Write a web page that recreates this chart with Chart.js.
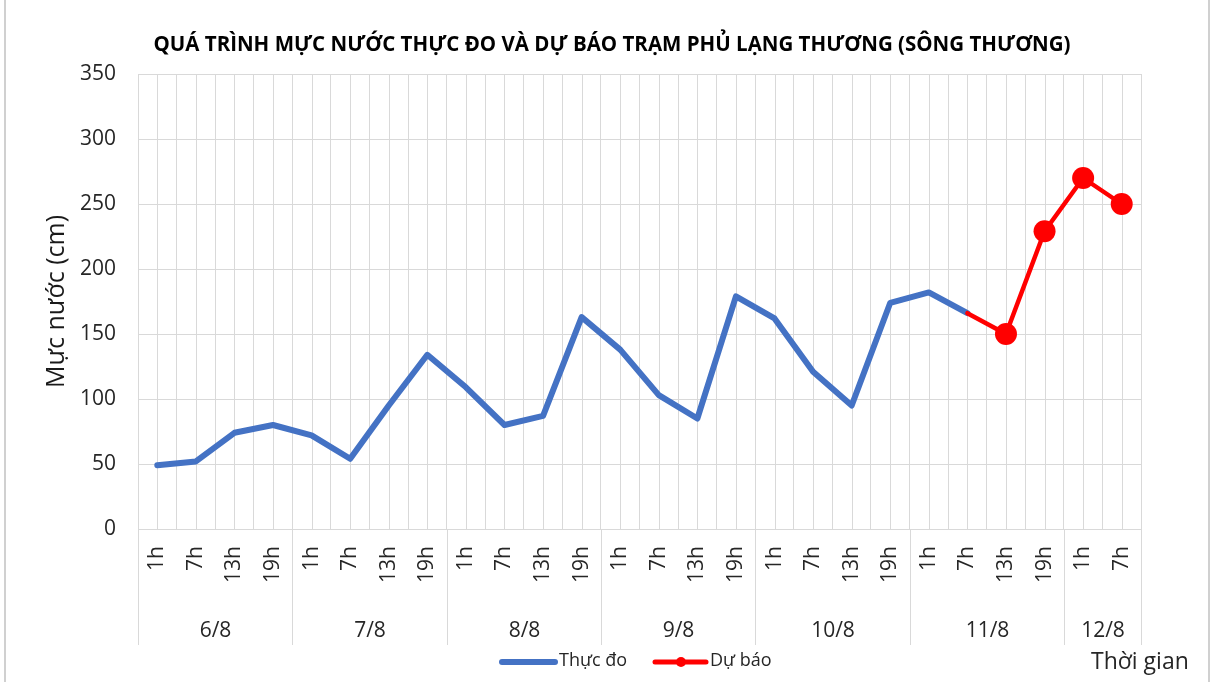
<!DOCTYPE html>
<html>
<head>
<meta charset="utf-8">
<title>Mực nước Phủ Lạng Thương</title>
<script src="https://cdn.jsdelivr.net/npm/chart.js@4.4.1/dist/chart.umd.min.js"></script>
<style>
  html, body { margin: 0; padding: 0; background: #fff; }
  #wrap { width: 1211px; height: 682px; position: relative; }
</style>
</head>
<body>
<div id="wrap"><canvas id="chart"></canvas></div>
<script>
// categories: hour of each reading, grouped by day
const hours = ["1h", "7h", "13h", "19h", "1h", "7h", "13h", "19h", "1h", "7h", "13h", "19h",
  "1h", "7h", "13h", "19h", "1h", "7h", "13h", "19h", "1h", "7h", "13h", "19h", "1h", "7h"];
const days = ["6/8", "7/8", "8/8", "9/8", "10/8", "11/8", "12/8"];
const daySizes = [4, 4, 4, 4, 4, 4, 2];

// water level (cm)
const measured = [49, 52, 74, 80, 72, 54, 95, 134, 109, 80, 87, 163, 138, 103, 85, 179,
  162, 121, 95, 174, 182, 166, null, null, null, null];
const forecast = [null, null, null, null, null, null, null, null, null, null, null, null, null,
  null, null, null, null, null, null, null, null, 166, 150, 229, 270, 250];

const yTicks = [0, 50, 100, 150, 200, 250, 300, 350];

const TITLE = "QUÁ TRÌNH MỰC NƯỚC THỰC ĐO VÀ DỰ BÁO TRẠM PHỦ LẠNG THƯƠNG (SÔNG THƯƠNG)";
const FONT = "'Open Sans', 'DejaVu Sans', sans-serif";
const GRID = "#d9d9d9";
const BLUE = "#4472c4";
const RED = "#ff0000";

const extras = {
  id: "extras",
  beforeDatasetsDraw(chart) {
    // Excel-style gridline through each category centre
    const { ctx, chartArea, scales } = chart;
    ctx.save();
    ctx.strokeStyle = GRID;
    ctx.lineWidth = 1;
    hours.forEach((h, i) => {
      const x = Math.round(scales.x.getPixelForValue(i)) + 0.5;
      ctx.beginPath();
      ctx.moveTo(x, chartArea.top);
      ctx.lineTo(x, chartArea.bottom);
      ctx.stroke();
    });
    ctx.restore();
  },
  afterDraw(chart) {
    const { ctx, chartArea, scales } = chart;
    const x = scales.x;
    const half = (x.getPixelForValue(1) - x.getPixelForValue(0)) / 2;
    ctx.save();

    // title, centred like the original rather than on the canvas
    ctx.fillStyle = "#000";
    ctx.font = "bold 20.5px " + FONT;
    ctx.textAlign = "center";
    ctx.textBaseline = "middle";
    ctx.fillText(TITLE, 612, 45);

    // day groups under the hour labels
    ctx.strokeStyle = GRID;
    ctx.lineWidth = 1;
    ctx.fillStyle = "#262626";
    ctx.font = "21px " + FONT;
    let start = 0;
    const edge = (i) => Math.round(x.getPixelForValue(i) - half) + 0.5;
    days.forEach((d, k) => {
      const end = start + daySizes[k];
      const x0 = edge(start);
      const x1 = edge(end);
      ctx.beginPath();
      ctx.moveTo(x0, chartArea.bottom);
      ctx.lineTo(x0, 645);
      ctx.stroke();
      if (k === days.length - 1) {
        ctx.beginPath();
        ctx.moveTo(x1, chartArea.bottom);
        ctx.lineTo(x1, 645);
        ctx.stroke();
      }
      ctx.fillText(d, (x0 + x1) / 2, 631);
      start = end;
    });

    // legend
    ctx.lineCap = "round";
    ctx.lineWidth = 6;
    ctx.strokeStyle = BLUE;
    ctx.beginPath();
    ctx.moveTo(502, 662);
    ctx.lineTo(555, 662);
    ctx.stroke();
    ctx.strokeStyle = RED;
    ctx.lineWidth = 5;
    ctx.beginPath();
    ctx.moveTo(655, 662);
    ctx.lineTo(706, 662);
    ctx.stroke();
    ctx.fillStyle = RED;
    ctx.beginPath();
    ctx.arc(681, 662, 5, 0, Math.PI * 2);
    ctx.fill();
    ctx.fillStyle = "#262626";
    ctx.font = "18px " + FONT;
    ctx.textAlign = "left";
    ctx.fillText("Thực đo", 559, 661);
    ctx.fillText("Dự báo", 710, 661);

    // x axis caption
    ctx.font = "23px " + FONT;
    ctx.fillText("Thời gian", 1091, 662);

    // frame
    ctx.strokeStyle = "#d0d0d0";
    ctx.lineWidth = 2;
    ctx.beginPath();
    ctx.moveTo(5, 0);
    ctx.lineTo(5, 682);
    ctx.moveTo(1209, 0);
    ctx.lineTo(1209, 682);
    ctx.stroke();
    ctx.restore();
  }
};

new Chart(document.getElementById("chart"), {
  type: "line",
  data: {
    labels: hours,
    datasets: [
      {
        label: "Dự báo",
        data: forecast,
        borderColor: RED,
        backgroundColor: RED,
        borderWidth: 4.5,
        pointRadius: forecast.map((v, i) => (i === 21 ? 0 : 11)),
        pointHoverRadius: 11,
        pointBorderWidth: 0,
        borderJoinStyle: "round",
        borderCapStyle: "round",
        tension: 0,
        order: 0
      },
      {
        label: "Thực đo",
        data: measured,
        borderColor: BLUE,
        backgroundColor: BLUE,
        borderWidth: 6,
        pointRadius: 0,
        borderJoinStyle: "round",
        borderCapStyle: "round",
        tension: 0,
        order: 1
      }
    ]
  },
  options: {
    responsive: true,
    maintainAspectRatio: false,
    animation: false,
    layout: { padding: { top: 74, left: 0, right: 70, bottom: 37 } },
    plugins: {
      legend: { display: false },
      tooltip: { enabled: false },
      title: { display: false }
    },
    scales: {
      x: {
        offset: true,
        grid: { offset: true, color: GRID, drawTicks: false },
        border: { color: GRID },
        ticks: {
          autoSkip: false,
          minRotation: 90,
          maxRotation: 90,
          padding: 17,
          color: "#262626",
          font: { family: FONT, size: 21 }
        },
        afterFit(scale) { scale.height = 116; }
      },
      y: {
        min: 0,
        max: 350,
        afterBuildTicks(scale) { scale.ticks = yTicks.map((v) => ({ value: v })); },
        grid: { color: GRID, drawTicks: false },
        border: { display: false },
        ticks: {
          padding: 22,
          color: "#262626",
          font: { family: FONT, size: 21 }
        },
        title: {
          display: true,
          text: "Mực nước (cm)",
          color: "#1a1a1a",
          font: { family: FONT, size: 25 },
          padding: { top: 42, bottom: 0 }
        },
        afterFit(scale) { scale.width = 138; }
      }
    }
  },
  plugins: [extras]
});
</script>
</body>
</html>
